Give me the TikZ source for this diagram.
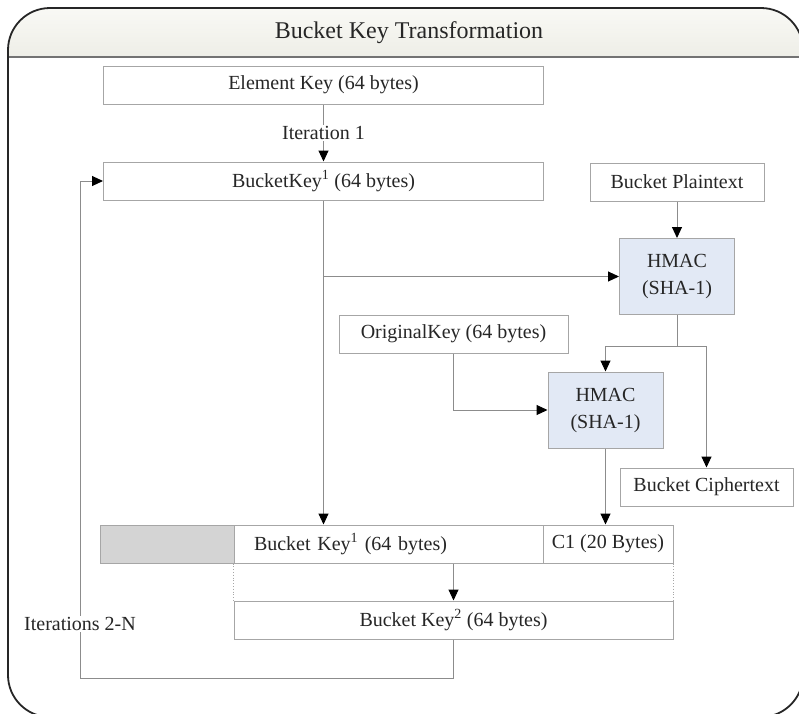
\documentclass[tikz,border=0pt]{standalone}
\usepackage{fontspec}
\setmainfont{Liberation Serif}
\usetikzlibrary{arrows.meta}
\definecolor{boxline}{HTML}{A6A6A6}
\definecolor{connline}{HTML}{8C8C8C}
\definecolor{hmacblue}{HTML}{E2E9F5}
\definecolor{padgrey}{HTML}{D4D4D4}
\definecolor{hdrtop}{HTML}{F9F9F5}
\definecolor{hdrbot}{HTML}{EEEEE7}
\begin{document}
\begin{tikzpicture}[x=1pt,y=-1pt,font=\fontsize{20}{27}\selectfont,
  box/.style={draw=boxline,fill=white,line width=1pt,minimum height=38pt,inner sep=0pt,text=black!85},
  hmac/.style={box,fill=hmacblue,align=center,minimum width=115pt,minimum height=76pt},
  conn/.style={draw=connline,line width=1pt,-{Triangle[color=black,length=11pt,width=10pt]}},
  lbl/.style={fill=white,inner sep=1pt,text=black!85},
  dotline/.style={draw=boxline,dotted,line width=0.8pt}]
\useasboundingbox (0,0) rectangle (799,713);
\clip (0,0) rectangle (799,713);
\begin{scope}
\clip[rounded corners=42pt] (8,8) rectangle (803,717);
\fill[top color=hdrtop,bottom color=hdrbot] (8,8) rectangle (803,57);
\end{scope}
\draw[line width=1.5pt,draw=black!55] (8,57) -- (803,57);
\draw[line width=1.8pt,draw=black!85,rounded corners=42pt] (8,8) rectangle (803,717);
\node[text=black!85,font=\fontsize{24}{28}\selectfont] (title) at (409,33) {Bucket Key Transformation};
\node[box,minimum width=440pt] (elem) at (323.5,85) {Element Key (64 bytes)};
\node[box,minimum width=440pt] (bk1) at (323.5,181) {BucketKey\textsuperscript{1} (64 bytes)};
\node[box,minimum width=174pt] (plain) at (677,182) {Bucket Plaintext};
\node[hmac] (hmac1) at (677,276.5) {HMAC\\(SHA-1)};
\node[box,minimum width=229pt] (orig) at (453.5,334) {OriginalKey (64 bytes)};
\node[hmac] (hmac2) at (605.5,410) {HMAC\\(SHA-1)};
\node[box,minimum width=173pt] (cipher) at (706.5,487) {Bucket Ciphertext};
\node[box,fill=padgrey,minimum width=134pt] (pad) at (167,544) {};
\node[box,text width=269pt,inner xsep=20pt,align=left] (bk1b) at (388.5,544) {Bucket Key\textsuperscript{1} (64 bytes)};
\node[box,minimum width=130pt] (c1) at (608,544) {C1 (20 Bytes)};
\node[box,minimum width=439pt] (bk2) at (453.5,620) {Bucket Key\textsuperscript{2} (64 bytes)};
\coordinate (split) at (677,346);
\coordinate (loop) at (80,678);
\draw[conn] (elem) -- node[lbl]{Iteration 1} (bk1);
\draw[conn] (plain) -- (hmac1);
\draw[conn] (bk1.south) -- (bk1.south |- bk1b.north);
\draw[conn] (bk1.south |- hmac1.west) -- (hmac1.west);
\draw[connline,line width=1pt] (hmac1.south) -- (split);
\draw[conn] (split) -| (hmac2.north);
\draw[conn] (split) -| (cipher.north);
\draw[conn] (orig.south) |- (hmac2.west);
\draw[conn] (hmac2.south) -- (hmac2.south |- c1.north);
\draw[dotline] (bk1b.south west) -- (bk2.north west);
\draw[dotline] (c1.south east) -- (bk2.north east);
\draw[conn] (bk2.north |- bk1b.south) -- (bk2.north);
\draw[conn] (bk2.south) |- (loop) |- (bk1.west);
\node[lbl] (iter) at (80,624) {Iterations 2-N};
\end{tikzpicture}
\end{document}
